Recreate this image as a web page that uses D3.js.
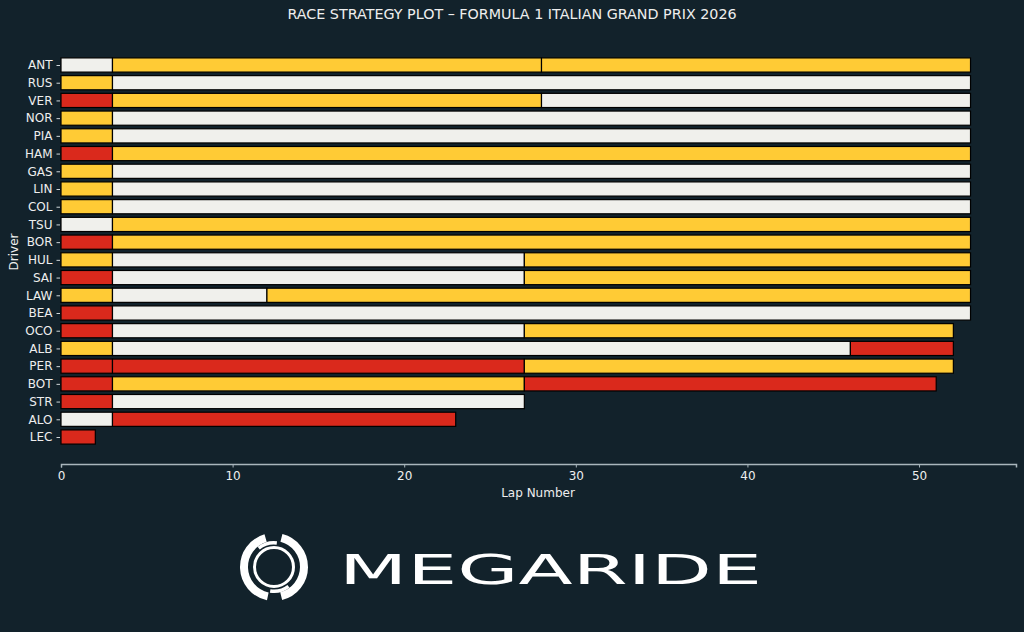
<!DOCTYPE html>
<html><head><meta charset="utf-8">
<script src="https://cdn.jsdelivr.net/npm/d3@7"></script>
<style>
html,body{margin:0;padding:0;background:#12222b;}
svg{display:block;}
text{font-family:"DejaVu Sans",sans-serif;}
</style></head>
<body>
<svg id="c" width="1024" height="632"></svg>
<script>
const title = "RACE STRATEGY PLOT – FORMULA 1 ITALIAN GRAND PRIX 2026";
const drivers = ["ANT","RUS","VER","NOR","PIA","HAM","GAS","LIN","COL","TSU","BOR","HUL","SAI","LAW","BEA","OCO","ALB","PER","BOT","STR","ALO","LEC"];
// stints per driver: compounds and lap counts
const stintCompounds = [
  ["HARD","MEDIUM","MEDIUM"],
  ["MEDIUM","HARD"],
  ["SOFT","MEDIUM","HARD"],
  ["MEDIUM","HARD"],
  ["MEDIUM","HARD"],
  ["SOFT","MEDIUM"],
  ["MEDIUM","HARD"],
  ["MEDIUM","HARD"],
  ["MEDIUM","HARD"],
  ["HARD","MEDIUM"],
  ["SOFT","MEDIUM"],
  ["MEDIUM","HARD","MEDIUM"],
  ["SOFT","HARD","MEDIUM"],
  ["MEDIUM","HARD","MEDIUM"],
  ["SOFT","HARD"],
  ["SOFT","HARD","MEDIUM"],
  ["MEDIUM","HARD","SOFT"],
  ["SOFT","SOFT","MEDIUM"],
  ["SOFT","MEDIUM","SOFT"],
  ["SOFT","HARD"],
  ["HARD","SOFT"],
  ["SOFT"]
];
const stintLaps = [
  [3,25,25],
  [3,50],
  [3,25,25],
  [3,50],
  [3,50],
  [3,50],
  [3,50],
  [3,50],
  [3,50],
  [3,50],
  [3,50],
  [3,24,26],
  [3,24,26],
  [3,9,41],
  [3,50],
  [3,24,25],
  [3,43,6],
  [3,24,25],
  [3,24,24],
  [3,24],
  [3,20],
  [2]
];
const compoundNames = ["SOFT","MEDIUM","HARD"];
const compoundColors = ["#da291c","#ffcb35","#f0f0ec"];
const xTicks = [0,10,20,30,40,50];

const svg = d3.select("#c");
const bg = "#12222b", fg = "#eeeeee";
svg.append("rect").attr("width",1024).attr("height",632).attr("fill",bg);

const x = d3.scaleLinear().domain([0,55.65]).range([61,1016]);
const y = d3.scalePoint().domain(drivers).range([65,437]);
const step = y.step();
const barH = step*0.8;
const color = d3.scaleOrdinal().domain(compoundNames).range(compoundColors);

// bars
const segs = [];
drivers.forEach((d,i)=>{
  let start = 0;
  stintLaps[i].forEach((l,j)=>{
    segs.push({driver:d, compound:stintCompounds[i][j], start:start, laps:l});
    start += l;
  });
});
svg.append("g").selectAll("rect").data(segs).join("rect")
  .attr("x",d=>x(d.start)).attr("width",d=>x(d.start+d.laps)-x(d.start))
  .attr("y",d=>y(d.driver)-barH/2).attr("height",barH)
  .attr("fill",d=>color(d.compound)).attr("stroke","#000").attr("stroke-width",1.2);

// x axis
const xa = svg.append("g").attr("transform","translate(0,464)")
  .call(d3.axisBottom(x).tickValues(xTicks).tickSize(3.5).tickPadding(4));
xa.select(".domain").attr("stroke","#a9b6bc").attr("stroke-width",1.5);
xa.selectAll(".tick line").attr("stroke","#a9b6bc");
xa.selectAll(".tick text").attr("fill",fg).attr("font-size",12).attr("font-family","DejaVu Sans");

// y axis
const ya = svg.append("g").attr("transform","translate(60,0)")
  .call(d3.axisLeft(y).tickSize(3.5).tickPadding(4));
ya.select(".domain").remove();
ya.selectAll(".tick line").attr("stroke","#cfd6d9");
ya.selectAll(".tick text").attr("fill",fg).attr("font-size",12).attr("font-family","DejaVu Sans");

// labels
svg.append("text").attr("x",538).attr("y",497).attr("text-anchor","middle")
  .attr("fill",fg).attr("font-size",12).text("Lap Number");
svg.append("text").attr("transform","translate(18,252) rotate(-90)").attr("text-anchor","middle")
  .attr("fill",fg).attr("font-size",12).text("Driver");
svg.append("text").attr("x",512).attr("y",19).attr("text-anchor","middle")
  .attr("fill",fg).attr("font-size",14.3).text(title);

// logo
const lg = svg.append("g").attr("transform","translate(274,567)");
lg.append("circle").attr("r",19.5).attr("fill","none").attr("stroke","#fff").attr("stroke-width",3);
const arc = d3.arc().innerRadius(26).outerRadius(34);
[[0.25,2.9],[3.35,6.0]].forEach(([a0,a1])=>{
  lg.append("path").attr("d",arc({startAngle:a0,endAngle:a1})).attr("fill","#fff");
});
const arc2 = d3.arc().innerRadius(22.5).outerRadius(26);
[[2.5,3.3],[5.6,6.4]].forEach(([a0,a1])=>{
  lg.append("path").attr("d",arc2({startAngle:a0,endAngle:a1})).attr("fill","#fff");
});
svg.append("text").attr("x",339).attr("y",584).attr("fill","#fff")
  .attr("font-size",41).attr("font-family","DejaVu Sans").attr("font-weight","normal")
  .attr("textLength",423).attr("lengthAdjust","spacingAndGlyphs").text("MEGARIDE");
</script>
</body></html>
